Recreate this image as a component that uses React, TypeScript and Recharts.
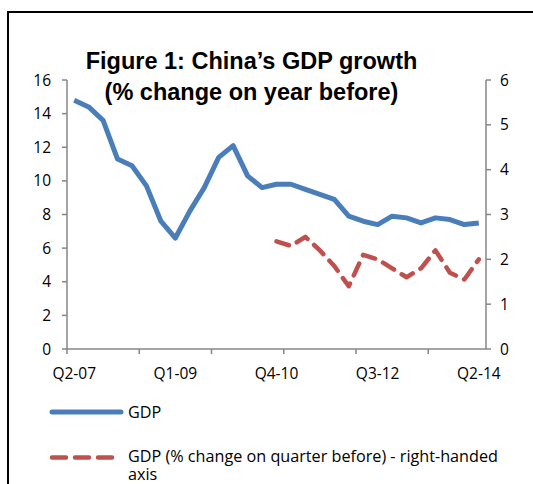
import { LineChart, Line, XAxis, YAxis } from "recharts";

const quarters = [
  "Q2-07", "Q3-07", "Q4-07", "Q1-08", "Q2-08", "Q3-08", "Q4-08",
  "Q1-09", "Q2-09", "Q3-09", "Q4-09", "Q1-10", "Q2-10", "Q3-10",
  "Q4-10", "Q1-11", "Q2-11", "Q3-11", "Q4-11", "Q1-12", "Q2-12",
  "Q3-12", "Q4-12", "Q1-13", "Q2-13", "Q3-13", "Q4-13", "Q1-14", "Q2-14",
];

// year-on-year growth, left axis
const gdpYoy = [
  14.8, 14.4, 13.6, 11.3, 10.9, 9.7, 7.6, 6.6, 8.2, 9.6, 11.4, 12.1, 10.3, 9.6,
  9.8, 9.8, 9.5, 9.2, 8.9, 7.9, 7.6, 7.4, 7.9, 7.8, 7.5, 7.8, 7.7, 7.4, 7.5,
];

// quarter-on-quarter growth, right axis (starts Q4-10)
const gdpQoq: (number | null)[] = [
  null, null, null, null, null, null, null, null, null, null, null, null, null, null,
  2.4, 2.3, 2.5, 2.2, 1.85, 1.4, 2.1, 2.0, 1.8, 1.6, 1.8, 2.2, 1.7, 1.55, 2.0,
];

const leftTicks = [0, 2, 4, 6, 8, 10, 12, 14, 16];
const rightTicks = [0, 1, 2, 3, 4, 5, 6];

const data = quarters.map((q, i) => ({ q, gdp: gdpYoy[i], qoq: gdpQoq[i] }));

const BLUE = "#4A7EBB";
const RED = "#C0504D";
const AXIS = "#868686";
const FONT = "'Open Sans', sans-serif";
const HALF_STEP = 7.2; // half a category, so points sit mid-band like excel

// tick marks every 5 quarters (on category edges), labels every 7
const QuarterTick = (props: any) => {
  const { x, y, payload, index } = props;
  return (
    <g>
      {index % 5 === 0 && (
        <line x1={x - HALF_STEP} x2={x - HALF_STEP} y1={y} y2={y + 5} stroke={AXIS} strokeWidth={1.5} />
      )}
      {index % 7 === 0 && (
        <text x={x} y={y + 30} textAnchor="middle" fontFamily={FONT} fontSize={15.5} fill="#000">
          {payload.value}
        </text>
      )}
    </g>
  );
};

const tickStyle = { fontFamily: FONT, fontSize: 15.5, fill: "#000" };

export default function App() {
  return (
    <div style={{ position: "absolute", left: 0, top: 0, width: 533, height: 484, overflow: "hidden", background: "#fff" }}>
      <div
        style={{
          position: "absolute",
          left: 7,
          top: 11,
          width: 600,
          height: 600,
          borderLeft: "2px solid #000",
          borderTop: "2px solid #000",
        }}
      />
      <LineChart width={533} height={484} data={data} margin={{ top: 80, right: 0, left: 0, bottom: 105 }}>
        <XAxis
          dataKey="q"
          interval={0}
          height={30}
          padding={{ left: HALF_STEP, right: HALF_STEP }}
          tickSize={0}
          tickMargin={0}
          tickLine={false}
          axisLine={{ stroke: AXIS, strokeWidth: 1.5 }}
          tick={<QuarterTick />}
        />
        <YAxis
          yAxisId="left"
          width={67}
          domain={[0, 16]}
          ticks={leftTicks}
          interval={0}
          tickSize={5}
          tickMargin={11}
          axisLine={{ stroke: AXIS, strokeWidth: 1.5 }}
          tickLine={{ stroke: AXIS, strokeWidth: 1.5 }}
          tick={tickStyle}
        />
        <YAxis
          yAxisId="right"
          orientation="right"
          width={47}
          domain={[0, 6]}
          ticks={rightTicks}
          interval={0}
          tickSize={5}
          tickMargin={9}
          axisLine={{ stroke: AXIS, strokeWidth: 1.5 }}
          tickLine={{ stroke: AXIS, strokeWidth: 1.5 }}
          tick={tickStyle}
        />
        <Line
          yAxisId="left"
          type="linear"
          dataKey="gdp"
          stroke={BLUE}
          strokeWidth={5}
          strokeLinejoin="round"
          dot={false}
          isAnimationActive={false}
        />
        <Line
          yAxisId="right"
          type="linear"
          dataKey="qoq"
          stroke={RED}
          strokeWidth={4.5}
          strokeDasharray="13 9"
          strokeLinecap="round"
          strokeLinejoin="round"
          dot={false}
          isAnimationActive={false}
        />
      </LineChart>
      <div
        style={{
          position: "absolute",
          left: 0,
          width: 503,
          top: 46,
          textAlign: "center",
          fontFamily: "'Liberation Sans', Arial, sans-serif",
          fontWeight: "bold",
          fontSize: 23.5,
          lineHeight: "31px",
          color: "#000",
        }}
      >
        Figure 1: China’s GDP growth
        <br />
        (% change on year before)
      </div>
      <div style={{ position: "absolute", left: 49, top: 400, fontFamily: FONT, fontSize: 16.2, color: "#000" }}>
        <div style={{ display: "flex", alignItems: "center", height: 24 }}>
          <svg width={76} height={10}>
            <line x1={3} x2={72} y1={5} y2={5} stroke={BLUE} strokeWidth={5} strokeLinecap="round" />
          </svg>
          <span style={{ marginLeft: 3 }}>GDP</span>
        </div>
        <div style={{ display: "flex", alignItems: "flex-start", marginTop: 24 }}>
          <svg width={76} height={18}>
            <line
              x1={3}
              x2={64}
              y1={9.5}
              y2={9.5}
              stroke={RED}
              strokeWidth={4.5}
              strokeDasharray="14 9"
              strokeLinecap="round"
            />
          </svg>
          <span style={{ marginLeft: 3, width: 390, lineHeight: "17.5px", marginTop: 0 }}>
            GDP (% change on quarter before) - right-handed axis
          </span>
        </div>
      </div>
    </div>
  );
}
